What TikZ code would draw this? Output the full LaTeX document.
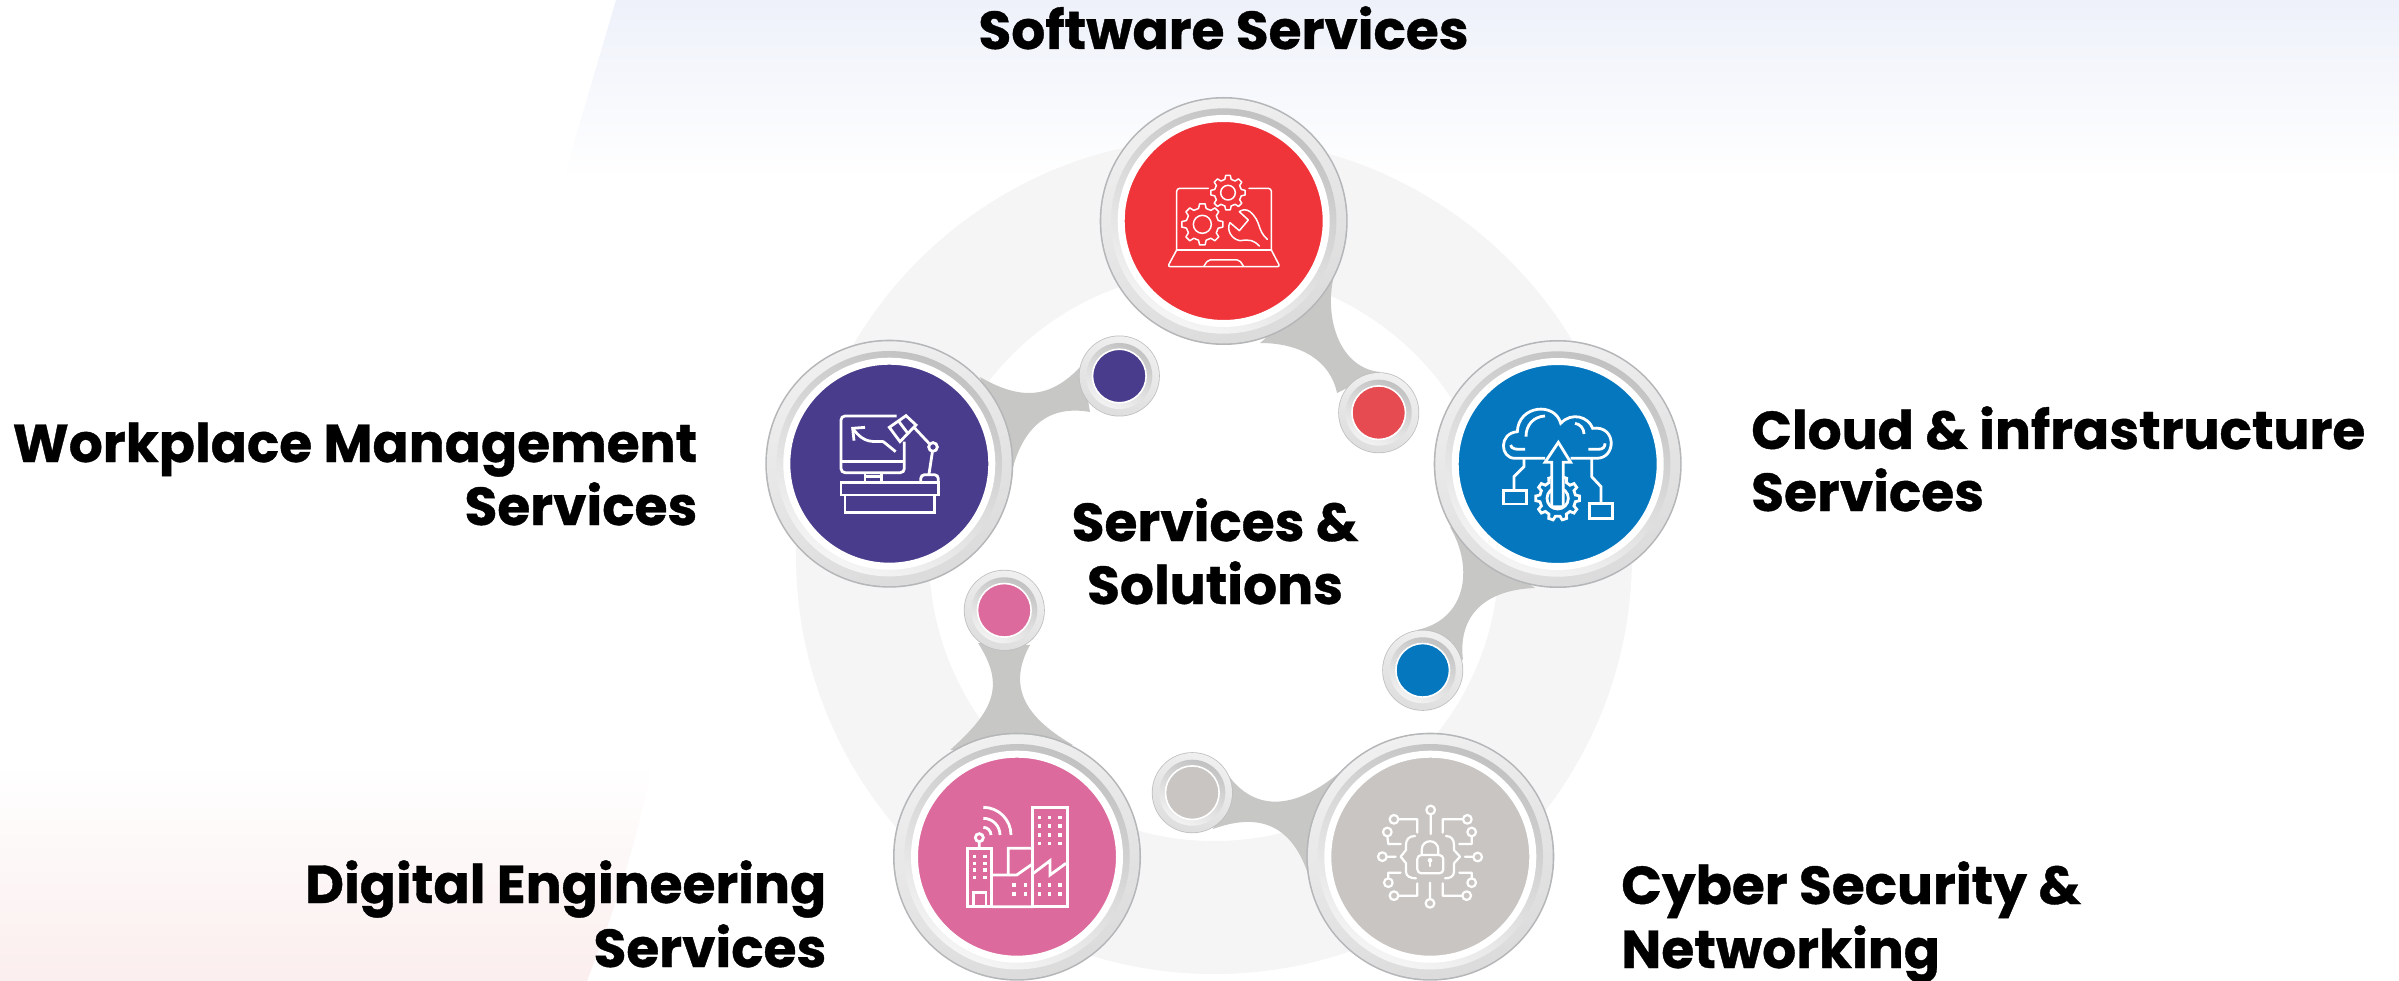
\documentclass[tikz,border=0pt]{standalone}
\usepackage{fontspec}
\setmainfont{Poppins}[BoldFont={Poppins Bold},BoldFeatures={FakeBold=0.7}]
\definecolor{cRed}{HTML}{EF343A}\definecolor{cRedS}{HTML}{E54B50}
\definecolor{cPur}{HTML}{4A3C8C}\definecolor{cBlue}{HTML}{0477BF}
\definecolor{cGrey}{HTML}{C9C5C2}\definecolor{cPink}{HTML}{DC6A9D}
\definecolor{cStem}{HTML}{C7C7C5}\definecolor{cEdge}{HTML}{B4B6B8}
\definecolor{cBand}{HTML}{F5F5F6}\definecolor{cTop}{HTML}{EEF1FA}\definecolor{cTopM}{HTML}{FAFAFD}
\definecolor{cBot}{HTML}{FBEEEE}\definecolor{cBotM}{HTML}{FEFBFB}
\tikzset{
 stem/.style={fill=cStem,draw=none},
 lab/.style={font=\bfseries\fontsize{53.4}{62}\selectfont,inner sep=0pt,text=black},
 thinicon/.style={draw=white,line width=1.5pt,line join=round,line cap=round},
 icon/.style={draw=white,line width=2.8pt,line join=miter},
 midicon/.style={draw=white,line width=2.2pt,line join=round,line cap=round},
}
\newcommand{\bigring}[4]{%
 \fill[cEdge] (#2,#3) circle[radius=124];
 \shade[top color=white!94!black,bottom color=white!86!black,shading angle=20] (#2,#3) circle[radius=122.4];
 \shade[top color=white!76!black,bottom color=white!96!black,shading angle=-25] (#2,#3) circle[radius=112.7];
 \node[circle,draw=white,line width=7pt,fill=#4,minimum size=205pt,inner sep=0pt] (#1) at (#2,#3) {};
}
\newcommand{\smallring}[4]{%
 \fill[white!75!black] (#2,#3) circle[radius=40.5];
 \shade[top color=white!94!black,bottom color=white!87!black,shading angle=-20] (#2,#3) circle[radius=39.7];
 \shade[top color=white!76!black,bottom color=white!95!black,shading angle=-25] (#2,#3) circle[radius=33];
 \node[circle,draw=white,line width=1.6pt,fill=#4,minimum size=53.6pt,inner sep=0pt] (#1) at (#2,#3) {};
}
\newcommand{\gearpath}[6]{% style,cx,cy,rout,rin,n
 \begin{scope}[shift={(#2,#3)}]
 \pgfmathtruncatemacro{\gearlast}{#6-1}
 \draw[#1] ({-.3*360/#6}:#5) \foreach \i in {0,...,\gearlast}{
   -- ({(\i-.17)*360/#6}:#4) -- ({(\i+.17)*360/#6}:#4) -- ({(\i+.3)*360/#6}:#5) -- ({(\i+.7)*360/#6}:#5)} -- cycle;
 \end{scope}}
\begin{document}
\begin{tikzpicture}[x=1pt,y=-1pt]
\useasboundingbox (0,0) rectangle (2399,981);
% backgrounds
\shade[top color=cTop,middle color=cTopM,bottom color=white] (616,0) -- (2399,0) -- (2399,180) -- (563,180) -- cycle;
\shade[top color=white,middle color=cBotM,bottom color=cBot] (0,763) -- (653,763) .. controls (630,870) and (610,920) .. (587,981) -- (0,981) -- cycle;
% big ring
\fill[cBand,even odd rule] (1214,556) circle[radius=418] (1214,556) circle[radius=285];
% stems
\path[stem] (1333,280) .. controls (1325,320) and (1340,368) .. (1380,372) -- (1337,393) .. controls (1330,360) and (1300,343) .. (1260,343) -- cycle;
\path[stem] (980,377) .. controls (1020,400) and (1050,400) .. (1082,365) -- (1090,412) .. controls (1050,405) and (1025,425) .. (1013,467) -- cycle;
\path[stem] (1450,527) .. controls (1475,570) and (1465,620) .. (1417,630) -- (1463,660) .. controls (1458,620) and (1480,590) .. (1535,588) -- cycle;
\path[stem] (1228,775) .. controls (1255,812) and (1295,810) .. (1340,772) -- (1310,880) .. controls (1295,830) and (1265,810) .. (1213,829) -- cycle;
\path[stem] (978,643) .. controls (1005,685) and (995,710) .. (950,750) -- (1073,745) .. controls (1030,720) and (1005,690) .. (1030,645) -- cycle;
% discs
\bigring{soft}{1223.7}{221}{cRed}
\bigring{work}{889.3}{463.7}{cPur}
\bigring{cloud}{1557.7}{464}{cBlue}
\bigring{cyber}{1430.3}{856.7}{cGrey}
\bigring{digi}{1017}{856.7}{cPink}
\smallring{softs}{1378.7}{412.7}{cRedS}
\smallring{works}{1119.3}{376}{cPur}
\smallring{clouds}{1422.7}{670.3}{cBlue}
\smallring{cybers}{1192.3}{792.7}{cGrey}
\smallring{digis}{1004.3}{610.3}{cPink}
% icon: software
\begin{scope}[shift={(1080,80)},scale=1/3]
 \draw[thinicon,rounded corners=3pt] (385,325) -- (290,325) -- (290,510);
 \draw[thinicon,rounded corners=3pt] (507,325) -- (574,325) -- (574,510);
 \draw[thinicon] (290,510) -- (574,510);
 \draw[thinicon,rounded corners=2.5pt] (290,510) -- (263,560) -- (600,560) -- (574,510);
 \draw[thinicon,rounded corners=2pt] (372,558) -- (384,540) -- (478,540) -- (490,558);
 \gearpath{thinicon}{367}{433}{62}{49}{8}
 \draw[thinicon] (367,433) circle[radius=27];
 \gearpath{thinicon}{444}{338}{52}{41}{8}
 \draw[thinicon] (444,338) circle[radius=22];
 \draw[thinicon] (562,478) .. controls (530,450) and (545,425) .. (510,395) .. controls (498,387) and (488,388) .. (478,395) -- (505,420) -- (478,452) -- (450,428) .. controls (438,450) and (455,478) .. (480,482) .. controls (510,478) and (520,480) .. (538,498);
\end{scope}
% icon: workplace
\begin{scope}[shift={(750,320)},scale=1/3]
 \draw[icon,rounded corners=4pt] (440,288) -- (273,288) -- (273,458) -- (463,458) -- (463,365);
 \draw[icon] (273,425) -- (463,425) (345,458) -- (345,485) (395,458) -- (395,485) (345,470) -- (395,470);
 \draw[icon] (273,487) rectangle (565,525) (285,525) rectangle (553,578);
 \draw[icon,rounded corners=4pt] (512,487) -- (512,464) -- (565,464) -- (565,487);
 \draw[icon] (345,322) -- (308,325) -- (312,362);
 \draw[icon] (308,325) .. controls (345,375) and (370,362) .. (400,365) -- (437,395);
 \draw[icon] (418,322) -- (468,287) -- (498,315) -- (450,365) -- cycle (447,305) -- (472,338);
 \draw[icon] (490,320) -- (537,370) (547,397) -- (537,462);
 \draw[icon] (549,381) circle[radius=13];
\end{scope}
% icon: cloud
\begin{scope}[shift={(1400,330)},scale=1/3]
 \gearpath{icon}{473}{505}{66}{54}{10}
 \draw[icon] (473,505) circle[radius=32];
 \draw[icon,fill=cBlue] (455,530) -- (455,397) -- (435,397) -- (475,337) -- (512,397) -- (490,397) -- (490,530) -- cycle;
 \draw[icon] (435,385) -- (345,385) .. controls (300,385) and (295,310) .. (352,305) .. controls (355,225) and (465,215) .. (482,280) .. controls (515,245) and (565,260) .. (578,295) .. controls (650,285) and (650,385) .. (590,385) -- (512,385);
 \draw[icon] (378,320) .. controls (378,285) and (400,260) .. (435,258);
 \draw[icon] (332,345) .. controls (335,358) and (345,358) .. (375,358);
 \draw[icon] (565,358) -- (595,358) .. controls (610,358) and (615,350) .. (615,340);
 \draw[icon] (525,280) .. controls (540,282) and (552,295) .. (552,312);
 \draw[icon] (310,482) rectangle (380,522) (568,520) rectangle (638,566);
 \draw[icon] (372,385) -- (372,410) -- (342,440) -- (342,482);
 \draw[icon] (575,385) -- (575,440) -- (603,470) -- (603,520);
\end{scope}
% icon: cyber
\begin{scope}[shift={(1130,730)},scale=1/3]
 \foreach \px/\py in {902/240,792/268,772/306,757/380,775/458,792/497,900/520,1010/497,1025/458,1043/381,1025/306,1012/268}
   \draw[midicon] (\px,\py) circle[radius=13];
 \draw[midicon] (902,254) -- (902,312) (805,268) -- (862,268) -- (862,308) (772,320) -- (775,342) -- (812,342) (771,380) -- (797,380) (775,445) -- (775,428) -- (812,428) (805,497) -- (862,497) -- (862,460) (900,505) -- (900,458) (997,497) -- (938,497) -- (938,460) (1025,445) -- (1025,428) -- (988,428) (1005,380) -- (1030,380) (1025,320) -- (1025,342) -- (988,342) (998,268) -- (938,268) -- (938,308);
 \draw[midicon] (855,318) .. controls (835,318) and (828,330) .. (828,345) -- (828,360) -- (812,380) -- (828,400) -- (828,425) .. controls (828,438) and (840,445) .. (858,445);
 \draw[midicon] (948,318) .. controls (965,318) and (972,330) .. (972,345) -- (972,360) -- (990,380) -- (972,400) -- (972,425) .. controls (972,438) and (962,445) .. (945,445);
 \draw[midicon,rounded corners=4pt] (862,375) rectangle (940,430);
 \draw[midicon] (875,375) -- (875,360) .. controls (875,325) and (925,325) .. (925,360) -- (925,375);
 \fill[white] (900,391) circle[radius=7];
 \draw[midicon] (900,391) -- (900,408);
\end{scope}
% icon: digital
\begin{scope}[shift={(880,570)},scale=1/3]
 \draw[icon] (262,835) rectangle (335,1010) (458,712) rectangle (562,1010);
 \draw[icon] (280,1010) -- (280,968) -- (318,968) -- (318,1010);
 \draw[icon] (298,803) circle[radius=12] (298,816) -- (298,835);
 \draw[icon] (310,712) arc[start angle=-90,end angle=0,radius=83];
 \draw[icon] (310,745) arc[start angle=-90,end angle=0,radius=50];
 \draw[icon] (310,772) arc[start angle=-90,end angle=0,radius=23];
 \draw[icon] (335,915) -- (410,915) -- (460,880) (385,915) -- (385,835) -- (460,835) (335,1010) -- (460,1010);
 \draw[icon] (460,910) -- (510,872) -- (510,915) -- (558,880);
 \foreach \px in {283,315} \foreach \py in {860,880,900,922} \fill[white] (\px-5,\py-5) rectangle (\px+5,\py+5);
 \foreach \px in {478,508,540} \foreach \py in {742,768,795,820,945,972} \fill[white] (\px-5,\py-5) rectangle (\px+5,\py+5);
 \foreach \px in {402,437} \foreach \py in {945,972} \fill[white] (\px-5,\py-5) rectangle (\px+5,\py+5);
\end{scope}
% labels
\node[lab,anchor=base] (t1) at (1223.5,49) {Software Services};
\node[lab,anchor=base east] (t2a) at (697.5,462) {Workplace Management};
\node[lab,anchor=base east] (t2b) at (697.5,525) {Services};
\node[lab,anchor=base west] (t3a) at (1751,449) {Cloud \& infrastructure};
\node[lab,anchor=base west] (t3b) at (1751,511) {Services};
\node[lab,anchor=base west] (t4a) at (1621,904) {Cyber Security \&};
\node[lab,anchor=base west] (t4b) at (1621,968) {Networking};
\node[lab,anchor=base east] (t5a) at (826.5,903) {Digital Engineering};
\node[lab,anchor=base east] (t5b) at (826.5,967) {Services};
\node[lab,anchor=base] (c1) at (1215,541) {Services \&};
\node[lab,anchor=base] (c2) at (1215,604) {Solutions};
\end{tikzpicture}
\end{document}
